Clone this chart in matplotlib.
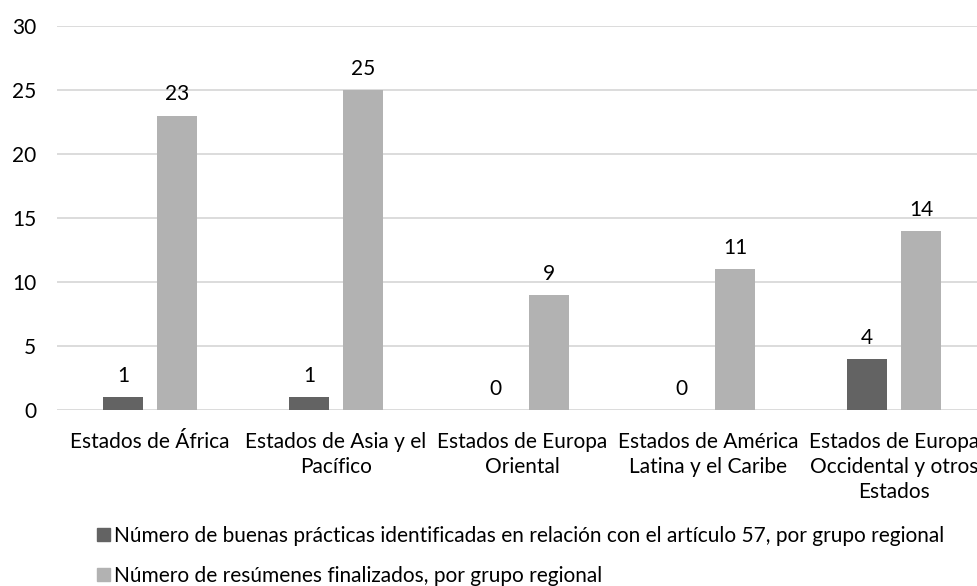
import matplotlib
matplotlib.use("Agg")
import matplotlib.pyplot as plt
import numpy as np
from matplotlib.patches import Patch

plt.rcParams['font.family'] = ['Lato', 'DejaVu Sans']

categories = ["Estados de África", "Estados de Asia y el\nPacífico", "Estados de Europa\nOriental",
              "Estados de América\nLatina y el Caribe", "Estados de Europa\nOccidental y otros\nEstados"]
buenas_practicas = [1, 1, 0, 0, 4]
resumenes = [23, 25, 9, 11, 14]
series_names = ["Número de buenas prácticas identificadas en relación con el artículo 57, por grupo regional",
                "Número de resúmenes finalizados, por grupo regional"]
yticks = [0, 5, 10, 15, 20, 25, 30]

W, H = 977, 586
fs = 15
fig = plt.figure(figsize=(W/100, H/100), dpi=100)
ax = fig.add_axes([57/W, (H-410)/H, 930/W, 384/H])

x = np.arange(len(categories))
off = 0.145
bw = 0.22
c1, c2 = "#636363", "#b2b2b2"
b1 = ax.bar(x - off, buenas_practicas, bw, color=c1, zorder=3)
b2 = ax.bar(x + off, resumenes, bw, color=c2, zorder=3)
for bars in (b1, b2):
    ax.bar_label(bars, padding=8, fontsize=fs, color="#000000")

ax.set_xlim(-0.5, len(categories) - 0.5)
ax.set_ylim(0, 30)
ax.set_yticks(yticks)
ax.set_xticks(x)
ax.set_xticklabels(categories, fontsize=fs, linespacing=1.3)
ax.tick_params(axis='y', labelsize=fs, length=0, pad=15)
ax.tick_params(axis='x', length=0, pad=16)
ax.grid(axis='y', color="#d9d9d9", linewidth=1.3, zorder=0)
for s in ax.spines.values():
    s.set_visible(False)

handles = [Patch(color=c1), Patch(color=c2)]
fig.legend(handles, series_names, loc='upper left', bbox_to_anchor=(97/W, 1 - 526/H),
           frameon=False, fontsize=fs, handlelength=0.6, handleheight=0.6,
           handletextpad=0.2, labelspacing=0.95, borderaxespad=0, borderpad=0)

fig.savefig("out.png", dpi=100)
